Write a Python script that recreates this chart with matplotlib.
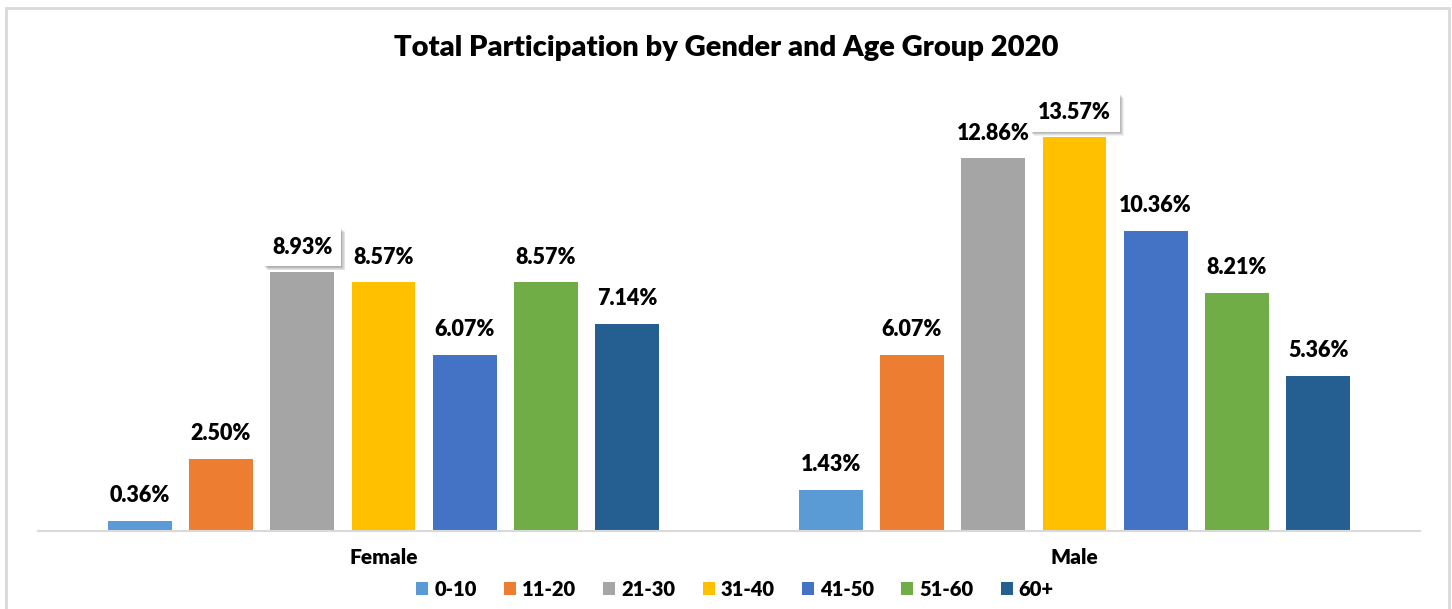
import numpy as np
import matplotlib.pyplot as plt
import matplotlib.patheffects as pe
from matplotlib.patches import Rectangle

genders = ['Female', 'Male']
age_groups = ['0-10', '11-20', '21-30', '31-40', '41-50', '51-60', '60+']
female = [0.36, 2.50, 8.93, 8.57, 6.07, 8.57, 7.14]
male = [1.43, 6.07, 12.86, 13.57, 10.36, 8.21, 5.36]
colors = ['#5B9BD5', '#ED7D31', '#A5A5A5', '#FFC000', '#4472C4', '#70AD47', '#255E91']
boxed = {('Female', '21-30'), ('Male', '31-40')}

plt.rcParams['font.family'] = ['Lato', 'DejaVu Sans']
plt.rcParams['font.weight'] = 'heavy'

fig = plt.figure(figsize=(14.52, 6.09), dpi=100)
ax = fig.add_axes([38 / 1452, 1 - 531 / 609, (1420 - 38) / 1452, (531 - 67) / 609])

x = np.arange(len(genders))
step = 0.1176
width = 0.0925
values = np.array([female, male])
shadow = [pe.withSimplePatchShadow(offset=(d, -d), shadow_rgbFace='#000000', alpha=0.06)
          for d in (0.5, 1.0, 1.5, 2.0, 2.5, 3.0)]
for i, age in enumerate(age_groups):
    pos = x + (i - 3) * step
    bars = ax.bar(pos, values[:, i], width, color=colors[i], label=age)
    for j, b in enumerate(bars):
        txt = ax.annotate(f'{values[j, i]:.2f}%', (b.get_x() + width / 2, b.get_height()),
                          xytext=(0, 18), textcoords='offset points', ha='center', va='center',
                          fontsize=15.5, fontweight='heavy')
        if (genders[j], age) in boxed:
            txt.set_bbox(dict(boxstyle='square,pad=0.4', fc='white', ec='none'))
            txt.get_bbox_patch().set_path_effects(shadow + [pe.Normal()])

ax.set_xlim(-0.5, 1.5)
ax.set_ylim(0, 16)
ax.set_xticks(x)
ax.set_xticklabels(genders, fontsize=15, fontweight='heavy')
ax.tick_params(axis='x', length=0, pad=12)
ax.set_yticks([])
for s in ['top', 'right', 'left']:
    ax.spines[s].set_visible(False)
ax.spines['bottom'].set_color('#D9D9D9')
ax.spines['bottom'].set_linewidth(1.5)

fig.suptitle('Total Participation by Gender and Age Group 2020', y=1 - 48 / 609, va='center',
             fontsize=21, fontweight='heavy')
fig.legend(loc='center', bbox_to_anchor=(735 / 1452, 1 - 589 / 609), ncol=7, frameon=False,
           handlelength=0.6, handleheight=0.6, handletextpad=0.3, columnspacing=1.35,
           prop={'size': 14.5, 'weight': 'heavy'})

fig.patches.append(Rectangle((6 / 1452, -0.1), (1449 - 6) / 1452, 1.1 - 8 / 609, transform=fig.transFigure,
                             fill=False, ec='#D9D9D9', lw=2))

fig.savefig('out.png')
